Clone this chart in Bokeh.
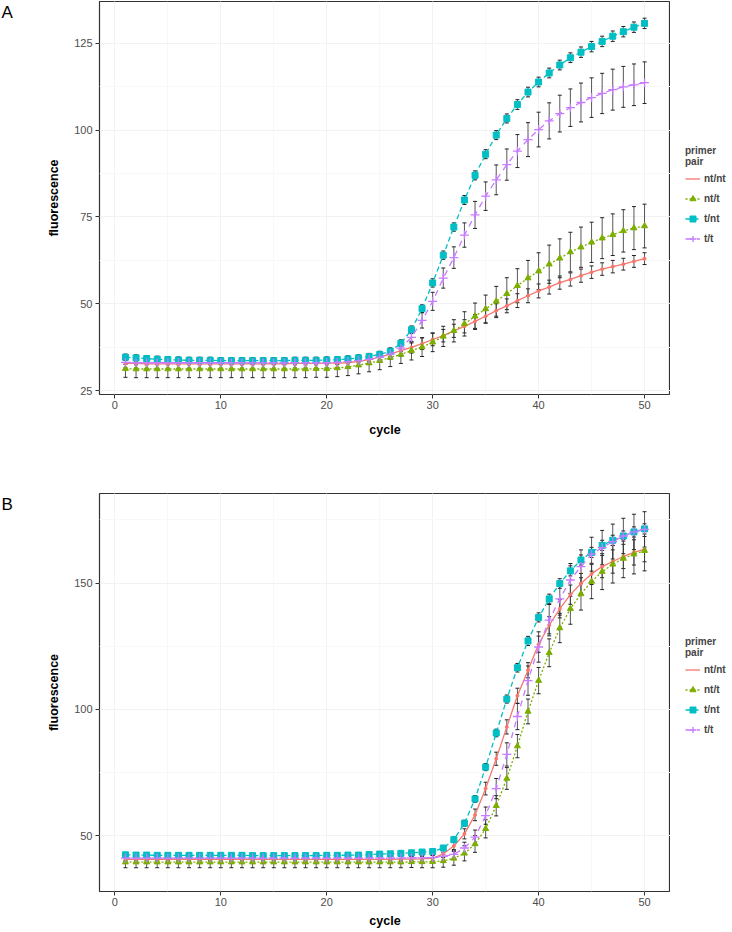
from bokeh.plotting import figure
from bokeh.models import (ColumnDataSource, Whisker, TeeHead, Legend, LegendItem,
                          SingleIntervalTicker, Range1d, Label)
from bokeh.layouts import column, row
from bokeh.embed import file_html
from bokeh.resources import INLINE

# ---------------- data ----------------
cycles = list(range(1, 51))
series_names = ["nt/nt", "nt/t", "t/nt", "t/t"]

# Panel A
A_ntnt = [32.8, 32.8, 32.7, 32.7, 32.7, 32.7, 32.7, 32.7, 32.7, 32.7,
          32.7, 32.7, 32.7, 32.7, 32.7, 32.7, 32.8, 32.8, 32.8, 32.9,
          32.9, 33.0, 33.4, 33.9, 34.6, 35.5, 36.5, 37.4, 38.5, 39.7,
          40.8, 42.2, 43.5, 44.9, 46.4, 48.0, 49.4, 50.9, 52.3, 53.7,
          54.8, 56.1, 57.0, 58.1, 59.1, 60.0, 60.7, 61.4, 62.2, 63.0]
A_ntt = [31.3, 31.2, 31.2, 31.2, 31.2, 31.2, 31.2, 31.2, 31.2, 31.2,
         31.2, 31.2, 31.2, 31.2, 31.2, 31.2, 31.2, 31.2, 31.3, 31.3,
         31.5, 31.8, 32.3, 32.9, 33.6, 34.5, 35.4, 36.5, 37.5, 38.9,
         40.6, 42.2, 44.2, 46.4, 48.5, 50.7, 52.9, 55.2, 57.4, 59.4,
         61.4, 63.1, 64.9, 66.3, 67.7, 68.9, 69.9, 71.0, 71.8, 72.4]
A_tnt = [34.6, 34.4, 34.2, 34.0, 33.9, 33.8, 33.7, 33.7, 33.7, 33.6,
         33.6, 33.6, 33.6, 33.6, 33.6, 33.6, 33.7, 33.7, 33.7, 33.8,
         33.9, 34.1, 34.4, 34.8, 35.4, 36.3, 38.6, 42.5, 48.6, 56.0,
         64.0, 72.1, 79.9, 87.0, 93.1, 98.6, 103.4, 107.4, 111.0, 113.9,
         116.5, 118.8, 120.9, 122.5, 124.1, 125.6, 127.1, 128.4, 129.7, 130.8]
A_tt = [33.1, 33.0, 33.0, 33.0, 33.0, 33.0, 33.0, 33.0, 33.0, 33.0,
        33.0, 33.0, 33.0, 33.0, 33.0, 33.0, 33.0, 33.0, 33.0, 33.0,
        33.1, 33.3, 33.6, 34.0, 34.6, 35.5, 37.2, 40.3, 45.2, 50.7,
        57.4, 63.3, 69.8, 75.6, 81.0, 85.7, 90.1, 94.0, 97.3, 100.2,
        102.7, 104.8, 106.5, 108.0, 109.4, 110.6, 111.7, 112.5, 113.1, 113.7]

A_ntnt_err = [1.3, 1.3, 1.3, 1.3, 1.3, 1.3, 1.3, 1.3, 1.3, 1.3,
              1.3, 1.3, 1.3, 1.3, 1.3, 1.3, 1.3, 1.3, 1.3, 1.3,
              1.3, 1.3, 1.4, 1.4, 1.5, 1.5, 1.6, 1.6, 1.7, 1.8,
              1.8, 1.9, 1.9, 2.0, 2.0, 2.0, 2.0, 2.0, 2.0, 2.0,
              2.0, 1.9, 1.9, 1.9, 1.8, 1.8, 1.8, 1.7, 1.7, 1.7]
A_ntt_err = [2.5, 2.5, 2.5, 2.5, 2.5, 2.5, 2.5, 2.5, 2.5, 2.5,
             2.5, 2.5, 2.5, 2.5, 2.5, 2.5, 2.5, 2.5, 2.5, 2.5,
             2.5, 2.5, 2.5, 2.5, 2.6, 2.6, 2.6, 2.7, 2.7, 2.7,
             2.9, 3.2, 3.5, 3.8, 4.0, 4.3, 4.6, 4.9, 5.1, 5.3,
             5.5, 5.6, 5.7, 5.8, 5.8, 5.9, 6.0, 6.1, 6.2, 6.3]
A_tnt_err = [0.9, 0.9, 0.9, 0.9, 0.9, 0.9, 0.9, 0.9, 0.9, 0.9,
             0.9, 0.9, 0.9, 0.9, 0.9, 0.9, 0.9, 0.9, 0.9, 0.9,
             0.9, 0.9, 0.9, 0.9, 0.9, 1.0, 1.0, 1.1, 1.1, 1.2,
             1.2, 1.2, 1.3, 1.3, 1.3, 1.3, 1.3, 1.4, 1.4, 1.4,
             1.4, 1.4, 1.4, 1.5, 1.5, 1.5, 1.5, 1.5, 1.5, 1.5]
A_tt_err = [0.6, 0.6, 0.6, 0.6, 0.6, 0.6, 0.6, 0.6, 0.6, 0.6,
            0.6, 0.6, 0.6, 0.6, 0.6, 0.6, 0.6, 0.6, 0.6, 0.6,
            0.6, 0.6, 0.6, 0.6, 0.7, 0.8, 1.0, 1.6, 2.2, 2.6,
            2.9, 3.1, 3.5, 3.9, 4.1, 4.3, 4.5, 4.75, 4.9, 5.0,
            5.2, 5.3, 5.4, 5.6, 5.7, 5.8, 5.9, 5.9, 6.0, 6.0]

# Panel B
B_ntnt = [40.7, 40.7, 40.7, 40.7, 40.7, 40.7, 40.7, 40.7, 40.7, 40.7,
          40.7, 40.7, 40.7, 40.7, 40.7, 40.7, 40.7, 40.7, 40.7, 40.7,
          40.7, 40.7, 40.7, 40.7, 40.7, 40.7, 40.8, 40.8, 40.9, 41.1,
          42.9, 46.0, 50.8, 58.3, 68.7, 80.5, 93.1, 105.4, 115.5, 125.8,
          133.3, 139.8, 145.4, 149.8, 153.6, 156.5, 158.5, 160.5, 162.1, 163.4]
B_ntt = [39.6, 39.6, 39.6, 39.6, 39.6, 39.6, 39.6, 39.6, 39.6, 39.6,
         39.6, 39.6, 39.6, 39.6, 39.6, 39.6, 39.6, 39.6, 39.6, 39.6,
         39.6, 39.6, 39.6, 39.6, 39.6, 39.6, 39.6, 39.7, 39.7, 39.8,
         40.1, 41.1, 43.1, 46.8, 52.8, 61.9, 72.7, 85.5, 99.2, 111.4,
         122.4, 132.2, 139.8, 145.7, 150.6, 154.5, 157.4, 159.7, 161.4, 162.8]
B_tnt = [42.5, 42.4, 42.4, 42.3, 42.3, 42.3, 42.3, 42.3, 42.3, 42.3,
         42.3, 42.3, 42.2, 42.2, 42.2, 42.2, 42.2, 42.2, 42.2, 42.3,
         42.3, 42.4, 42.4, 42.6, 42.8, 42.9, 43.1, 43.3, 43.6, 43.8,
         45.2, 48.5, 55.0, 64.6, 77.2, 90.7, 104.1, 116.5, 127.1, 136.4,
         143.7, 149.8, 154.8, 159.1, 162.1, 164.9, 166.9, 168.6, 170.2, 171.4]
B_tt = [41.2, 41.2, 41.2, 41.2, 41.2, 41.2, 41.2, 41.2, 41.2, 41.2,
        41.2, 41.2, 41.2, 41.2, 41.2, 41.2, 41.2, 41.2, 41.2, 41.2,
        41.2, 41.2, 41.2, 41.2, 41.2, 41.2, 41.2, 41.3, 41.3, 41.4,
        41.9, 42.7, 45.2, 49.5, 58.0, 68.7, 82.2, 97.2, 111.4, 124.7,
        135.3, 143.7, 151.2, 156.5, 161.4, 164.0, 166.4, 168.6, 170.2, 171.2]

B_ntnt_err = [1.0, 1.0, 1.0, 1.0, 1.0, 1.0, 1.0, 1.0, 1.0, 1.0,
              1.0, 1.0, 1.0, 1.0, 1.0, 1.0, 1.0, 1.0, 1.0, 1.0,
              1.0, 1.0, 1.0, 1.0, 1.0, 1.0, 1.0, 1.0, 1.1, 1.2,
              1.5, 1.8, 2.0, 2.3, 2.5, 2.6, 2.8, 3.0, 3.0, 3.2,
              3.4, 3.6, 3.8, 4.0, 4.2, 4.4, 4.6, 4.8, 5.0, 5.0]
B_ntt_err = [2.2, 2.2, 2.2, 2.2, 2.2, 2.2, 2.2, 2.2, 2.2, 2.2,
             2.2, 2.2, 2.2, 2.2, 2.2, 2.2, 2.2, 2.2, 2.2, 2.2,
             2.2, 2.2, 2.2, 2.2, 2.2, 2.2, 2.2, 2.2, 2.3, 2.4,
             2.5, 2.7, 3.0, 3.3, 3.6, 4.0, 4.3, 4.6, 4.9, 5.2,
             5.5, 5.8, 6.1, 6.4, 6.8, 7.1, 7.4, 7.6, 7.8, 8.0]
B_tnt_err = [0.9, 0.9, 0.9, 0.9, 0.9, 0.9, 0.9, 0.9, 0.9, 0.9,
             0.9, 0.9, 0.9, 0.9, 0.9, 0.9, 0.9, 0.9, 0.9, 0.9,
             0.9, 0.9, 0.9, 0.9, 0.9, 0.9, 0.9, 0.9, 0.9, 1.0,
             1.0, 1.1, 1.2, 1.3, 1.4, 1.5, 1.6, 1.7, 1.8, 1.8,
             1.9, 1.9, 2.0, 2.0, 2.0, 2.0, 2.0, 2.0, 2.0, 2.0]
B_tt_err = [1.0, 1.0, 1.0, 1.0, 1.0, 1.0, 1.0, 1.0, 1.0, 1.0,
            1.0, 1.0, 1.0, 1.0, 1.0, 1.0, 1.0, 1.0, 1.0, 1.0,
            1.0, 1.0, 1.0, 1.0, 1.0, 1.0, 1.0, 1.1, 1.2, 1.4,
            1.6, 1.9, 2.3, 2.8, 3.4, 4.0, 4.6, 5.2, 5.8, 6.0,
            6.2, 6.4, 6.5, 6.6, 6.7, 6.8, 6.9, 7.0, 7.0, 7.0]

colors = ["#F8766D", "#7CAE00", "#00BFC4", "#C77CFF"]
dashes = ["solid", "2 2", "5 3", "6 5"]
markers = ["circle", "triangle", "square", "cross"]
marker_sizes = [3, 6, 6, 9]

FONT = "Liberation Sans"
X0, X1 = -1.45, 52.45
LEFT_STRIP = 20
LEGEND_STRIP = 62


def blank_fig(w, h):
    # strip beside a panel; its ranges lie away from all data so nothing shows
    f = figure(width=w, height=h, x_range=Range1d(-2, -1), y_range=Range1d(-2, -1),
               x_axis_type=None, y_axis_type=None,
               min_border_left=0, min_border_right=0,
               min_border_top=0, min_border_bottom=0,
               output_backend="svg", toolbar_location=None)
    f.outline_line_color = None
    f.background_fill_color = "white"
    f.border_fill_color = "white"
    f.xgrid.visible = False
    f.ygrid.visible = False
    return f


def add_series(p, src, c, d, m, ms):
    lr = p.line("x", "y", source=src, line_color=c, line_width=1.3, line_dash=d)
    if m == "cross":
        sr = p.scatter("x", "y", source=src, marker=m, size=ms,
                       line_color=c, line_width=1.3)
    else:
        sr = p.scatter("x", "y", source=src, marker=m, size=ms,
                       fill_color=c, line_color=c)
    return lr, sr


def make_panel(tag, values, errors, y0, y1, y_step, top_b, frame_h, bottom_b,
               xlabel_standoff, legend_top_px):
    total_h = top_b + frame_h + bottom_b
    p = figure(frame_width=571, frame_height=frame_h,
               min_border_left=99 - LEFT_STRIP, min_border_right=0,
               min_border_top=top_b, min_border_bottom=bottom_b,
               x_range=Range1d(X0, X1), y_range=Range1d(y0, y1),
               output_backend="svg", toolbar_location=None)
    p.background_fill_color = "white"
    p.border_fill_color = "white"
    p.outline_line_color = "#333333"
    p.outline_line_width = 1.2

    xt = SingleIntervalTicker(interval=10, num_minor_ticks=2)
    yt = SingleIntervalTicker(interval=y_step, num_minor_ticks=2)
    p.xaxis.ticker = xt
    p.yaxis.ticker = yt
    p.xgrid.ticker = xt
    p.ygrid.ticker = yt
    for g in (p.xgrid, p.ygrid):
        g.grid_line_color = "#F2F2F2"
        g.grid_line_width = 1
        g.minor_grid_line_color = "#F8F8F8"
        g.minor_grid_line_width = 1

    for ax in (p.xaxis, p.yaxis):
        ax.axis_line_color = None
        ax.major_tick_line_color = "#333333"
        ax.major_tick_out = 4
        ax.major_tick_in = 0
        ax.minor_tick_line_color = None
        ax.major_label_text_font = FONT
        ax.major_label_text_font_size = "11px"
        ax.major_label_text_color = "#4D4D4D"
        ax.axis_label_text_font = FONT
        ax.axis_label_text_font_size = "12.5px"
        ax.axis_label_text_font_style = "bold"
        ax.axis_label_text_color = "black"
    p.xaxis.major_label_standoff = 2
    p.yaxis.major_label_standoff = 3
    p.xaxis.axis_label = "cycle"
    p.yaxis.axis_label = "fluorescence"
    p.xaxis.axis_label_standoff = xlabel_standoff
    p.yaxis.axis_label_standoff = 10

    # legend strip on the right
    gf = blank_fig(LEGEND_STRIP, total_h)
    items = []
    for name, vals, errs, c, d, m, ms in zip(series_names, values, errors, colors,
                                             dashes, markers, marker_sizes):
        src = ColumnDataSource(dict(
            x=cycles, y=vals,
            upper=[v + e for v, e in zip(vals, errs)],
            lower=[v - e for v, e in zip(vals, errs)]))
        w = Whisker(source=src, base="x", upper="upper", lower="lower",
                    line_color="#3A3A3A", line_alpha=0.85, line_width=1,
                    upper_head=TeeHead(size=4, line_color="#222222", line_width=1),
                    lower_head=TeeHead(size=4, line_color="#222222", line_width=1))
        w.level = "underlay"
        p.add_layout(w)
        add_series(p, src, c, d, m, ms)
        lr, sr = add_series(gf, src, c, d, m, ms)
        # the tiny nt/nt dots read as a plain line in the key
        key = [lr] if m == "circle" else [lr, sr]
        items.append(LegendItem(label=name, renderers=key))

    legend_h = 102
    # (x, y) is the legend's lower-left corner, measured from the strip's frame bottom-left
    leg_y = (top_b + frame_h) - (legend_top_px + legend_h)
    leg = Legend(items=items, location=(15, leg_y),
                 title="primer\npair",
                 title_text_font=FONT, title_text_font_size="10px",
                 title_text_font_style="bold", title_standoff=4,
                 label_text_font=FONT, label_text_font_size="10px",
                 label_text_font_style="bold", label_standoff=4,
                 glyph_width=15, glyph_height=15, spacing=5,
                 margin=0, padding=3, border_line_color=None,
                 background_fill_alpha=0)
    gf.add_layout(leg)

    # panel tag strip on the left (its frame is aligned with the panel frame)
    lf = blank_fig(LEFT_STRIP, total_h)
    lf.add_layout(Label(x=1, y=frame_h - 1, x_units="screen", y_units="screen",
                        text=tag, text_font=FONT, text_font_size="17px",
                        text_color="black", text_baseline="top", text_align="left"))
    return row(lf, p, gf, spacing=0)


rowA = make_panel("A", [A_ntnt, A_ntt, A_tnt, A_tt],
                  [A_ntnt_err, A_ntt_err, A_tnt_err, A_tt_err],
                  23.85, 137.1, 25, 1, 393, 50, 11, 144)
rowB = make_panel("B", [B_ntnt, B_ntt, B_tnt, B_tt],
                  [B_ntnt_err, B_ntt_err, B_tnt_err, B_tt_err],
                  28.0, 185.4, 50, 49, 398, 41, 5, 635 - 444)

layout = column(rowA, rowB, spacing=0)
open("out.html", "w").write(file_html(layout, INLINE))
